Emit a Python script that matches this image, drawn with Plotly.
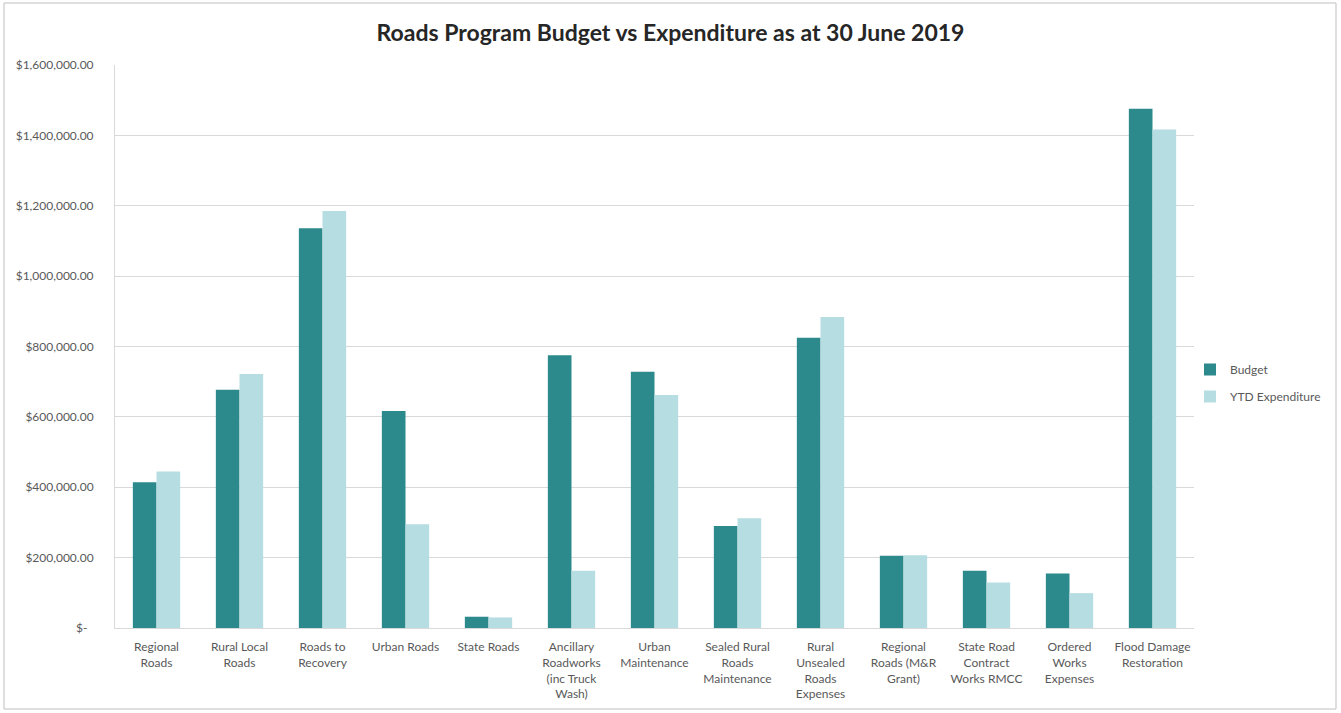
import plotly.graph_objects as go

# Roads program categories (x axis)
categories = [
    "Regional<br>Roads",
    "Rural Local<br>Roads",
    "Roads to<br>Recovery",
    "Urban Roads",
    "State Roads",
    "Ancillary<br>Roadworks<br>(inc Truck<br>Wash)",
    "Urban<br>Maintenance",
    "Sealed Rural<br>Roads<br>Maintenance",
    "Rural<br>Unsealed<br>Roads<br>Expenses",
    "Regional<br>Roads (M&R<br>Grant)",
    "State Road<br>Contract<br>Works RMCC",
    "Ordered<br>Works<br>Expenses",
    "Flood Damage<br>Restoration",
]

# Dollar amounts per category
budget = [414000, 677000, 1136000, 617000, 32000, 775000, 728000,
          290000, 825000, 205000, 163000, 155000, 1476000]
ytd_expenditure = [445000, 722000, 1185000, 295000, 30000, 163000, 662000,
                   312000, 884000, 207000, 129000, 99000, 1417000]

# Y axis ticks in accounting style
y_tickvals = [0, 200000, 400000, 600000, 800000, 1000000, 1200000, 1400000, 1600000]
y_ticktext = ["$-\u00a0\u00a0", "$200,000.00", "$400,000.00", "$600,000.00", "$800,000.00",
              "$1,000,000.00", "$1,200,000.00", "$1,400,000.00", "$1,600,000.00"]

W, H = 1341, 713
ML, MR, MT, MB = 115, 147, 65, 85

FONT = "Lato"
TEXT_GREY = "#595959"

fig = go.Figure()
fig.add_trace(go.Bar(
    x=categories, y=budget, name="Budget",
    marker=dict(color="#2C898C", line=dict(width=0)),
    legendgroup="b",
))
fig.add_trace(go.Bar(
    x=categories, y=ytd_expenditure, name="YTD Expenditure",
    marker=dict(color="#B6DDE1", line=dict(width=0)),
    legendgroup="e",
))

# thin frame around the whole chart area
pw = W - ML - MR
ph = H - MT - MB
fig.add_shape(
    type="rect", xref="paper", yref="paper",
    x0=(4 - ML) / pw, x1=(W - 5 - ML) / pw,
    y0=(H - MB - (H - 4)) / ph, y1=(H - MB - 3) / ph,
    line=dict(color="#BFBFBF", width=1), fillcolor="rgba(0,0,0,0)", layer="below",
)

fig.update_layout(
    width=W, height=H,
    margin=dict(l=ML, r=MR, t=MT, b=MB, autoexpand=False),
    paper_bgcolor="white", plot_bgcolor="white",
    font=dict(family=FONT, size=12, color=TEXT_GREY),
    title=dict(
        text="<b>Roads Program Budget vs Expenditure as at 30 June 2019</b>",
        x=0.5, xref="container", xanchor="center",
        y=1 - 33 / H, yref="container", yanchor="middle",
        font=dict(family=FONT, size=23, color="#262626"),
    ),
    barmode="group", bargap=0.43, bargroupgap=0,
    legend=dict(
        x=1190 / W, xref="container", xanchor="left",
        y=1 - 383 / H, yref="container", yanchor="middle",
        font=dict(family=FONT, size=12, color=TEXT_GREY),
        tracegroupgap=8, bgcolor="rgba(0,0,0,0)",
    ),
    showlegend=True,
)

fig.update_xaxes(
    showline=True, linecolor="#D9D9D9", linewidth=1,
    showgrid=False, ticks="", tickangle=0, ticklabelstandoff=8,
    tickfont=dict(family=FONT, size=12, color=TEXT_GREY),
)
fig.update_yaxes(
    range=[0, 1600000], tickvals=y_tickvals, ticktext=y_ticktext,
    showline=True, linecolor="#D9D9D9", linewidth=1,
    showgrid=True, gridcolor="#D9D9D9", gridwidth=1,
    zeroline=False, ticks="", ticklabelstandoff=18,
    tickfont=dict(family=FONT, size=12, color=TEXT_GREY),
)

fig.write_html("out.html")
